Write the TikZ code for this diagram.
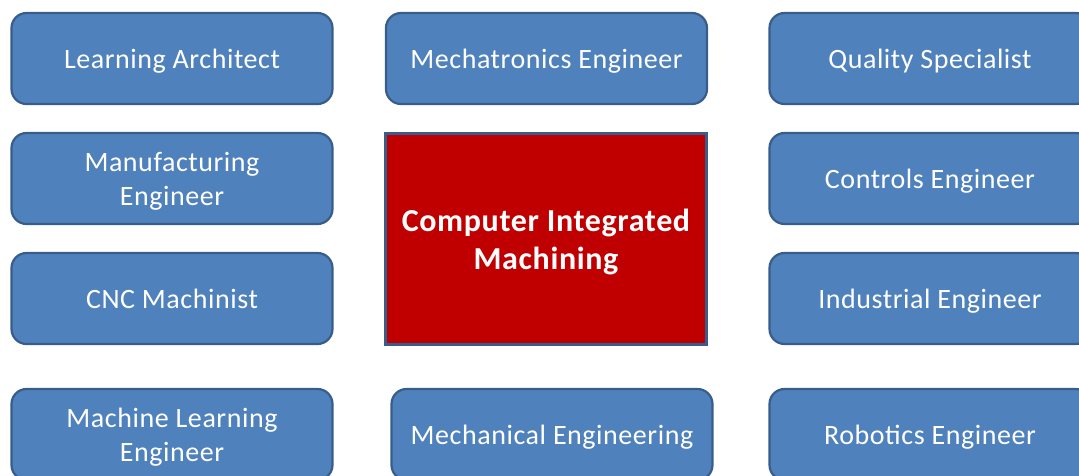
\documentclass[tikz,border=0pt]{standalone}
\usepackage{fontspec}
\setmainfont{Carlito}[LetterSpace=2]
\definecolor{boxfill}{HTML}{4F81BD}
\definecolor{boxline}{HTML}{385D8A}
\definecolor{redfill}{HTML}{C00000}
\begin{document}
\begin{tikzpicture}[x=1pt,y=-1pt,
  rolebox/.style={draw=boxline, fill=boxfill, line width=2.2pt, rounded corners=15pt,
    minimum width=321pt, minimum height=91pt, inner sep=0pt, align=center, text depth=0pt,
    text=white, font=\fontsize{28}{34}\selectfont},
  corebox/.style={draw=boxline, fill=redfill, line width=2.2pt,
    minimum width=321pt, minimum height=211pt, inner sep=0pt, align=center, text depth=0pt,
    text=white, font=\fontsize{32}{38}\selectfont\bfseries}]
\useasboundingbox (0,0) rectangle (1079,476);
\clip (0,0) rectangle (1079,476);
% left column
\node[rolebox] (la) at (172,58.5) {Learning Architect};
\node[rolebox] (me) at (172,178.5) {Manufacturing\\Engineer};
\node[rolebox] (cnc) at (172,298.5) {CNC Machinist};
\node[rolebox] (ml) at (172,434.5) {Machine Learning\\Engineer};
% middle column
\node[rolebox] (mt) at (546.5,58.5) {Mechatronics Engineer};
\node[corebox] (cim) at (546,239) {Computer Integrated\\Machining};
\node[rolebox] (mech) at (552,434.5) {Mechanical Engineering};
% right column
\node[rolebox] (qs) at (930,58.5) {Quality Specialist};
\node[rolebox] (ce) at (930,178.5) {Controls Engineer};
\node[rolebox] (ie) at (930,298.5) {Industrial Engineer};
\node[rolebox] (re) at (930,434.5) {Robotics Engineer};
\end{tikzpicture}
\end{document}
